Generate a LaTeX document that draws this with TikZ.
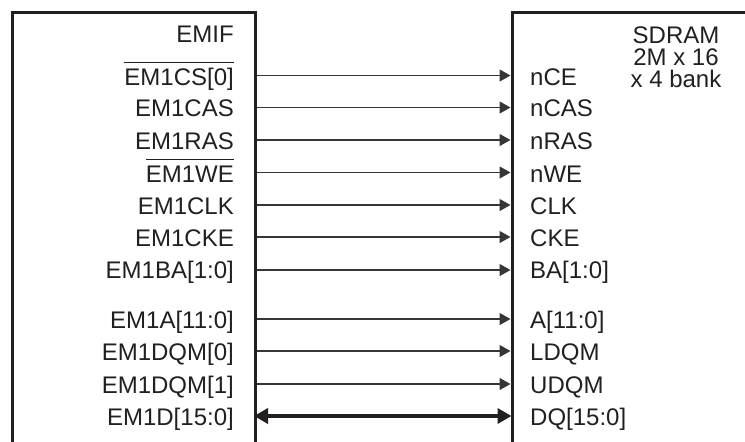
\documentclass[tikz,border=0pt]{standalone}
\usepackage{fontspec}
\setmainfont{Liberation Sans}
\usetikzlibrary{arrows.meta,positioning}
\definecolor{PinDark}{RGB}{35,31,32}
% signal name with a bar over it (active low)
\newcommand{\barsig}[1]{\leavevmode\setbox0\hbox{#1}\rlap{\raisebox{22.5pt}{\rule{\wd0}{1pt}}}\box0}

\begin{document}
\begin{tikzpicture}[x=1pt, y=-1pt,
    chip/.style={line width=3pt, PinDark},
    lpin/.style={anchor=base east, inner sep=0pt, font=\fontsize{24}{26}\selectfont, text=PinDark},
    rpin/.style={anchor=base west, inner sep=0pt, font=\fontsize{24}{26}\selectfont, text=PinDark},
    title/.style={anchor=base, inner sep=0pt, font=\fontsize{24}{26}\selectfont, text=PinDark},
    sig/.style={-{Triangle[length=11pt, width=12pt]}, line width=1.3pt, PinDark!90},
    bus/.style={{Triangle[length=14pt, width=15pt]}-{Triangle[length=14pt, width=15pt]}, line width=4pt, PinDark}
  ]
    \useasboundingbox (0,0) rectangle (745,442);

    % the two devices
    \draw[chip] (12,443) -- (12,12) -- (255,12) -- (255,443);
    \draw[chip] (512,443) -- (512,12) -- (746,12);
    \node[lpin] (emif) at (234,42) {EMIF};
    \node[title] (sdram) at (676,43) {SDRAM};
    \node[title] (size)  at (676,65) {2M x 16};
    \node[title] (banks) at (676,87) {x 4 bank};

    % pins on the EMIF side
    \node[lpin] (ecs)  at (234,85)  {\barsig{EM1CS[0]}};
    \node[lpin] (ecas) at (234,116) {EM1CAS};
    \node[lpin] (eras) at (234,149) {EM1RAS};
    \node[lpin] (ewe)  at (234,182) {\barsig{EM1WE}};
    \node[lpin] (eclk) at (234,214) {EM1CLK};
    \node[lpin] (ecke) at (234,246) {EM1CKE};
    \node[lpin] (eba)  at (234,278) {EM1BA[1:0]};
    \node[lpin] (ea)   at (234,328) {EM1A[11:0]};
    \node[lpin] (edq0) at (234,360) {EM1DQM[0]};
    \node[lpin] (edq1) at (234,393) {EM1DQM[1]};
    \node[lpin] (ed)   at (234,425) {EM1D[15:0]};

    % pins on the SDRAM side
    \node[rpin] (sce)  at (530,85)  {nCE};
    \node[rpin] (scas) at (530,116) {nCAS};
    \node[rpin] (sras) at (530,149) {nRAS};
    \node[rpin] (swe)  at (530,182) {nWE};
    \node[rpin] (sclk) at (530,214) {CLK};
    \node[rpin] (scke) at (530,246) {CKE};
    \node[rpin] (sba)  at (530,278) {BA[1:0]};
    \node[rpin] (sa)   at (530,328) {A[11:0]};
    \node[rpin] (sldq) at (530,360) {LDQM};
    \node[rpin] (sudq) at (530,393) {UDQM};
    \node[rpin] (sdq)  at (530,425) {DQ[15:0]};

    % pin ends on the box edges
    \coordinate (o1) at (256.5,75.5);   \coordinate (i1) at (510.5,75.5);
    \coordinate (o2) at (256.5,107.5);  \coordinate (i2) at (510.5,107.5);
    \coordinate (o3) at (256.5,140);    \coordinate (i3) at (510.5,140);
    \coordinate (o4) at (256.5,172.5);  \coordinate (i4) at (510.5,172.5);
    \coordinate (o5) at (256.5,205);    \coordinate (i5) at (510.5,205);
    \coordinate (o6) at (256.5,237);    \coordinate (i6) at (510.5,237);
    \coordinate (o7) at (256.5,270);    \coordinate (i7) at (510.5,270);
    \coordinate (o8) at (256.5,319);    \coordinate (i8) at (510.5,319);
    \coordinate (o9) at (256.5,351);    \coordinate (i9) at (510.5,351);
    \coordinate (o10) at (256.5,384);   \coordinate (i10) at (510.5,384);
    \coordinate (o11) at (254,416);     \coordinate (i11) at (511.5,416);

    \draw[sig] (o1) -- (i1);
    \draw[sig] (o2) -- (i2);
    \draw[sig] (o3) -- (i3);
    \draw[sig] (o4) -- (i4);
    \draw[sig] (o5) -- (i5);
    \draw[sig] (o6) -- (i6);
    \draw[sig] (o7) -- (i7);
    \draw[sig] (o8) -- (i8);
    \draw[sig] (o9) -- (i9);
    \draw[sig] (o10) -- (i10);
    \draw[bus] (o11) -- (i11);
  \end{tikzpicture}
\end{document}
